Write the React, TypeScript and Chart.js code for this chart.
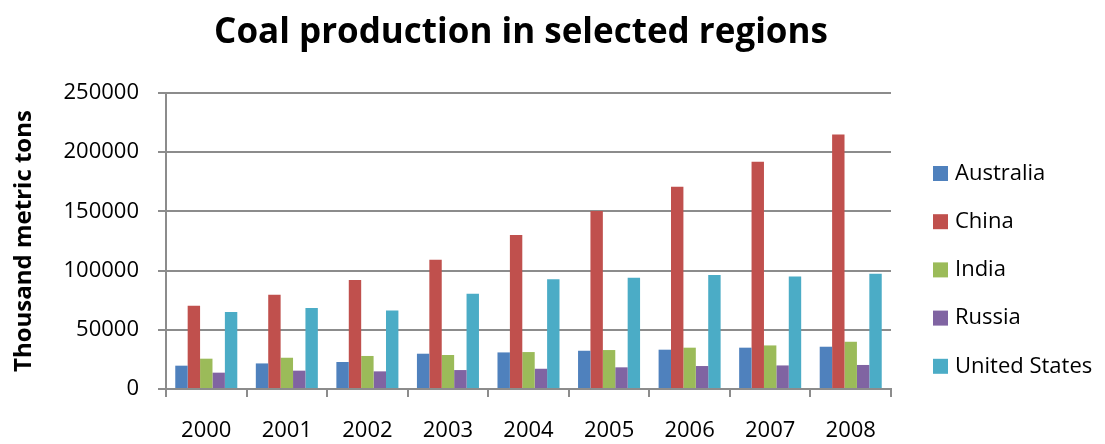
import React, { useEffect, useRef } from "react";
import { Chart, registerables } from "chart.js";

Chart.register(...registerables);

const years = ["2000", "2001", "2002", "2003", "2004", "2005", "2006", "2007", "2008"];
const seriesNames = ["Australia", "China", "India", "Russia", "United States"];
const australia = [19700, 21600, 22800, 29800, 30900, 32300, 33200, 34900, 35700];
const china = [70400, 79700, 92000, 109200, 130000, 150300, 170900, 192000, 215000];
const india = [25600, 26400, 27900, 28700, 31200, 32900, 34900, 36800, 39900];
const russia = [13800, 15500, 14900, 16000, 17100, 18300, 19400, 19900, 20300];
const unitedStates = [65000, 68400, 66400, 80500, 92600, 94000, 96300, 95100, 97400];
const colors = ["#4F81BD", "#C0504D", "#9BBB59", "#8064A2", "#4BACC6"];
const titleText = "Coal production in selected regions";
const yTitle = "Thousand metric tons";

const FONT = "'Open Sans', 'Liberation Sans', sans-serif";
const GRID = "#8c8c8c";

export default function App() {
  const ref = useRef<HTMLCanvasElement | null>(null);
  useEffect(() => {
    if (!ref.current) return;
    const values = [australia, china, india, russia, unitedStates];
    const overlay = {
      id: "overlay",
      afterDraw(chart: any) {
        const ctx = chart.ctx;
        ctx.save();
        ctx.fillStyle = "#000";
        ctx.font = `bold 35px ${FONT}`;
        ctx.textAlign = "center";
        ctx.textBaseline = "alphabetic";
        ctx.fillText(titleText, 521, 43);
        ctx.font = `22px ${FONT}`;
        ctx.textAlign = "left";
        ctx.textBaseline = "middle";
        chart.data.datasets.forEach((ds: any, i: number) => {
          const cy = 173.5 + i * 48.2;
          ctx.fillStyle = ds.backgroundColor;
          ctx.fillRect(933, cy - 7.5, 15, 15);
          ctx.fillStyle = "#000";
          ctx.fillText(ds.label, 955, cy);
        });
        ctx.restore();
      },
    };
    const chart = new Chart(ref.current, {
      type: "bar",
      data: {
        labels: years,
        datasets: seriesNames.map((name, i) => ({
          label: name,
          data: values[i],
          backgroundColor: colors[i],
          borderWidth: 0,
          categoryPercentage: 0.77,
          barPercentage: 1,
        })),
      },
      options: {
        animation: false,
        responsive: false,
        layout: { padding: { left: 10, top: 93, right: 214, bottom: 0 } },
        plugins: { legend: { display: false }, title: { display: false }, tooltip: { enabled: false } },
        scales: {
          x: {
            afterFit: (s: any) => { s.height = 55; },
            grid: { display: true, drawOnChartArea: false, drawTicks: true, tickLength: 8, color: GRID, lineWidth: 2, offset: true },
            border: { display: true, color: GRID, width: 2 },
            ticks: { color: "#000", font: { family: FONT, size: 22 }, padding: 21, maxRotation: 0 },
          },
          y: {
            min: 0,
            max: 250000,
            afterFit: (s: any) => { s.width = 156; },
            grid: { color: GRID, lineWidth: 2, tickLength: 8, drawTicks: true },
            border: { display: true, color: GRID, width: 2 },
            ticks: {
              stepSize: 50000,
              color: "#000",
              font: { family: FONT, size: 22 },
              padding: 19,
              callback: (v: any) => String(v),
            },
            title: { display: true, text: yTitle, color: "#000", font: { family: FONT, size: 24, weight: "bold" }, padding: 0 },
          },
        },
      },
      plugins: [overlay],
    });
    return () => chart.destroy();
  }, []);
  return (
    <div style={{ position: "fixed", left: 0, top: 0, width: 1105, height: 444, background: "#fff" }}>
      <canvas ref={ref} width={1105} height={444} style={{ display: "block" }} />
    </div>
  );
}
